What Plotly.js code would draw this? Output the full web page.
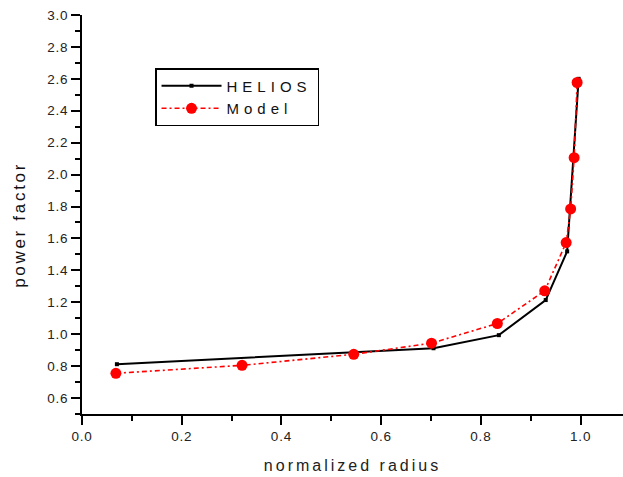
<!DOCTYPE html>
<html>
<head>
<meta charset="utf-8">
<script src="https://cdn.plot.ly/plotly-3.0.1.min.js"></script>
<style>
html, body { margin: 0; padding: 0; background: #fff; }
#chart { width: 623px; height: 477px; }
.legendtext { letter-spacing: 5px; }
.xtitle { letter-spacing: 3px; }
.annotation-text { letter-spacing: 2.7px; }
.xtick text, .ytick text { letter-spacing: 0.8px; }
</style>
</head>
<body>
<div id="chart"></div>
<script>
// HELIOS reference curve
const heliosX = [0.070, 0.705, 0.836, 0.930, 0.973, 0.996];
const heliosY = [0.812, 0.912, 0.994, 1.214, 1.519, 2.600];
// Model curve
const modelX = [0.068, 0.321, 0.545, 0.701, 0.833, 0.928, 0.971, 0.980, 0.987, 0.993];
const modelY = [0.755, 0.805, 0.874, 0.944, 1.067, 1.272, 1.574, 1.785, 2.106, 2.577];
const xTitle = 'normalized radius';
const yTitle = 'power factor';

const traces = [
  {
    x: heliosX, y: heliosY, name: 'HELIOS', type: 'scatter', mode: 'lines+markers',
    line: { color: '#000000', width: 2 },
    marker: { color: '#000000', size: 4, symbol: 'square' }
  },
  {
    x: modelX, y: modelY, name: 'Model', type: 'scatter', mode: 'lines+markers',
    line: { color: '#ff0000', width: 1.6, dash: '5px,3px,2px,3px' },
    marker: { color: '#ff0000', size: 11 }
  }
];

const font = 'Liberation Sans, Arial, sans-serif';
const axisCommon = {
  showgrid: false, zeroline: false, showline: true, linecolor: '#000', linewidth: 2,
  ticks: 'outside', ticklen: 9, tickwidth: 2, tickcolor: '#000',
  tickfont: { family: font, size: 13.5, color: '#222' },
  mirror: false
};

const layout = {
  width: 623, height: 477,
  margin: { l: 82, r: 0, t: 15, b: 63 },
  paper_bgcolor: '#fff', plot_bgcolor: '#fff',
  showlegend: true,
  legend: {
    x: 0.135, y: 0.867, xanchor: 'left', yanchor: 'top',
    bgcolor: '#fff', bordercolor: '#000', borderwidth: 1.5,
    font: { family: font, size: 15, color: '#111' },
    itemwidth: 60, tracegroupgap: 6
  },
  xaxis: Object.assign({}, axisCommon, {
    range: [0, 1.085], dtick: 0.2, tick0: 0, tickformat: '.1f',
    minor: { dtick: 0.1, ticklen: 5, tickwidth: 2, tickcolor: '#000', ticks: 'outside' },
    title: { text: xTitle, standoff: 17,
      font: { family: font, size: 16, color: '#222' } }
  }),
  yaxis: Object.assign({}, axisCommon, {
    range: [0.5, 3.0], dtick: 0.2, tick0: 0.6, tickformat: '.1f',
    minor: { dtick: 0.1, ticklen: 5, tickwidth: 2, tickcolor: '#000', ticks: 'outside' }
  }),
  annotations: [{
    text: yTitle, xref: 'paper', yref: 'paper', x: 0, y: 0.474, xshift: -62,
    textangle: -90, xanchor: 'center', yanchor: 'middle', showarrow: false,
    font: { family: font, size: 17, color: '#111' }
  }]
};

Plotly.newPlot('chart', traces, layout, { displayModeBar: false, staticPlot: true });
</script>
</body>
</html>
